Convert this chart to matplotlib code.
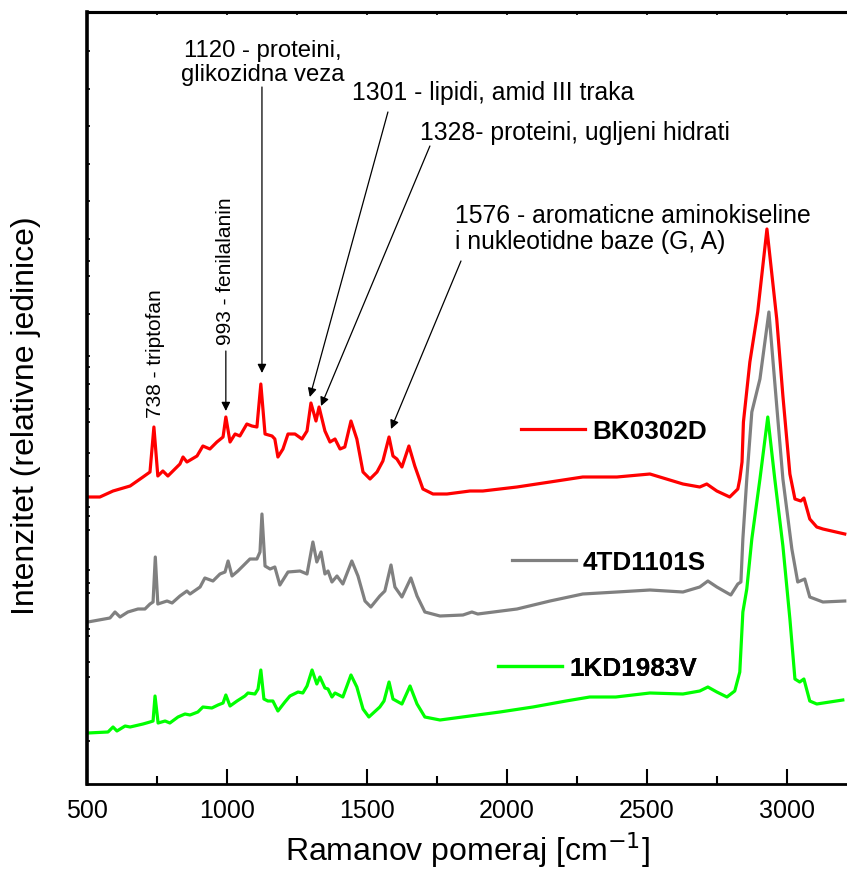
"""Raman spectra of three samples, stacked, with band assignments."""
import matplotlib
matplotlib.use("Agg")
import matplotlib.pyplot as plt
from matplotlib.lines import Line2D

plt.rcParams["font.family"] = ["Liberation Sans", "DejaVu Sans"]

# Ramanov pomeraj [cm-1] and offset intensities
red_x = [500, 546, 593, 654, 700, 725, 739, 753, 771, 789, 832, 843, 857, 893,
         914, 939, 964, 986, 996, 1011, 1029, 1046, 1071, 1089, 1107, 1121,
         1136, 1161, 1171, 1182, 1200, 1218, 1243, 1268, 1286, 1300, 1318,
         1329, 1350, 1368, 1386, 1404, 1421, 1443, 1464, 1486, 1511, 1536,
         1557, 1579, 1593, 1607, 1625, 1650, 1671, 1700, 1736, 1786, 1868,
         1914, 2036, 2154, 2271, 2393, 2511, 2629, 2689, 2714, 2750, 2796,
         2825, 2832, 2840, 2845, 2868, 2896, 2929, 2964, 2986, 3011, 3029,
         3050, 3061, 3082, 3107, 3129, 3207]
red_y = [287, 287, 293, 298, 307, 312, 357, 308, 313, 308, 320, 327, 322, 328,
         338, 335, 342, 347, 367, 342, 350, 348, 360, 358, 357, 400,
         350, 348, 345, 327, 335, 350, 350, 345, 353, 381, 363,
         377, 353, 342, 345, 335, 337, 363, 345, 312, 305, 312,
         323, 347, 328, 325, 317, 338, 318, 295, 290, 290, 293,
         293, 297, 302, 307, 307, 310, 300, 297, 300, 293, 287,
         295, 305, 322, 362, 422, 472, 555, 465, 388, 310, 285,
         283, 286, 265, 257, 255, 250]

gray_x = [503, 582, 600, 618, 646, 682, 707, 725, 736, 744, 753, 786, 804, 832,
          857, 868, 904, 921, 950, 975, 993, 1004, 1018, 1039, 1057, 1082,
          1107, 1118, 1125, 1136, 1154, 1171, 1189, 1218, 1261, 1286, 1307,
          1321, 1336, 1350, 1361, 1375, 1393, 1414, 1446, 1468, 1493, 1514,
          1546, 1564, 1586, 1600, 1625, 1657, 1679, 1707, 1761, 1843, 1875,
          1896, 2036, 2154, 2271, 2393, 2511, 2629, 2689, 2718, 2750, 2800,
          2825, 2836, 2843, 2857, 2875, 2904, 2936, 2964, 2986, 3018, 3039,
          3064, 3082, 3129, 3207]
gray_y = [162, 166, 172, 167, 172, 175, 175, 180, 182, 227, 180, 183, 181, 188,
          193, 190, 197, 206, 203, 210, 212, 223, 208, 213, 218, 225,
          225, 232, 270, 218, 215, 217, 199, 212, 213, 210, 242,
          222, 232, 210, 213, 202, 208, 200, 223, 208, 183, 177,
          188, 193, 219, 197, 187, 206, 188, 172, 168, 169, 172,
          170, 175, 183, 190, 192, 194, 192, 197, 203, 197, 189,
          200, 202, 245, 305, 372, 405, 472, 378, 305, 235, 202,
          205, 187, 182, 183]

green_x = [503, 575, 593, 607, 636, 654, 700, 725, 736, 743, 754, 779, 796, 825,
           850, 868, 896, 914, 946, 968, 986, 996, 1011, 1036, 1064, 1075,
           1100, 1111, 1121, 1132, 1146, 1164, 1182, 1207, 1225, 1254, 1271,
           1286, 1304, 1321, 1332, 1350, 1361, 1375, 1386, 1414, 1443, 1464,
           1486, 1507, 1546, 1561, 1579, 1593, 1625, 1654, 1679, 1707, 1761,
           1868, 1975, 2093, 2211, 2296, 2389, 2511, 2629, 2689, 2718, 2750,
           2786, 2814, 2832, 2843, 2857, 2875, 2904, 2932, 2957, 2986, 3011,
           3029, 3046, 3061, 3082, 3107, 3200]
green_y = [51, 52, 57, 53, 58, 57, 60, 62, 63, 88, 61, 63, 61, 67,
           70, 69, 72, 77, 76, 79, 81, 89, 78, 83, 88, 91,
           90, 95, 114, 85, 83, 83, 73, 82, 88, 92, 91,
           98, 114, 100, 107, 96, 95, 87, 91, 87, 109, 97,
           75, 67, 77, 83, 102, 85, 80, 98, 80, 67, 64,
           68, 72, 77, 83, 87, 87, 91, 90, 93, 97, 92,
           87, 93, 112, 172, 195, 245, 305, 367, 305, 238, 165,
           105, 102, 105, 83, 80, 84]

series = [
    ("BK0302D", red_x, red_y, "#ff0000"),
    ("4TD1101S", gray_x, gray_y, "#808080"),
    ("1KD1983V", green_x, green_y, "#00ff00"),
]
# where each label sits (axes fraction)
label_pos = [(0.571, 0.457), (0.559, 0.288), (0.541, 0.150)]

# band annotations: text, text xy, arrow start, arrow tip
bands = [
    ("1120 - proteini,\nglikozidna veza", (1127, 722), (1125, 697), (1125, 411)),
    ("1301 - lipidi, amid III traka", (1446, 692), (1575, 672), (1296, 387)),
    ("1328- proteini, ugljeni hidrati", (1689, 652), (1725, 638), (1336, 378)),
    ("1576 - aromaticne aminokiseline\ni nukleotidne baze (G, A)",
     (1814, 556), (1836, 523), (1586, 355)),
]
vert_bands = [
    ("738 - triptofan", (743, 367), None, None),
    ("993 - fenilalanin", (996, 440), (996, 433), (996, 373)),
]
left_ticks = [733, 695, 658, 620, 583, 545, 523, 508, 470, 428, 417, 400, 375,
              362, 331, 308, 277, 268, 254, 214, 201, 191, 155, 148, 122, 107, 43]

arrow_kw = dict(arrowstyle="-|>", color="k", lw=0.9, mutation_scale=13,
                shrinkA=0, shrinkB=0)

fig = plt.figure(figsize=(8.47, 8.70), dpi=100)
ax = fig.add_axes([87 / 847, 85 / 870, 760 / 847, 772 / 870])

for name, xs, ys, col in series:
    ax.plot(xs, ys, color=col, lw=2.3, solid_joinstyle="round")

for (name, xs, ys, col), (lx, ly) in zip(series, label_pos):
    leg = ax.legend([Line2D([], [], color=col, lw=2.3)], [name],
                    loc="center left", bbox_to_anchor=(lx, ly), frameon=False,
                    borderpad=0, borderaxespad=0, handlelength=2.45,
                    handletextpad=0.27,
                    prop={"weight": "bold", "size": 18.8})
    ax.add_artist(leg)

for txt, pos, a0, a1 in bands:
    ha = "center" if txt.startswith("1120") else "left"
    size = 17.2 if ha == "center" else 17.8
    ax.text(pos[0], pos[1], txt, ha=ha, va="center", fontsize=size,
            multialignment=ha, linespacing=1.12)
    ax.annotate("", xy=a1, xytext=a0, arrowprops=arrow_kw)

for txt, pos, a0, a1 in vert_bands:
    ax.text(pos[0], pos[1], txt, rotation=90, ha="center", va="bottom",
            fontsize=15)
    if a0 is not None:
        ax.annotate("", xy=a1, xytext=a0, arrowprops=arrow_kw)

ax.set_xlim(500, 3215)
ax.set_ylim(0, 772)
ax.set_xticks([500, 1000, 1500, 2000, 2500, 3000])
ax.set_xticks([750, 1250, 1750, 2250, 2750], minor=True)
ax.set_yticks([])
ax.set_yticks(left_ticks, minor=True)
ax.tick_params(axis="x", which="major", direction="in", length=11, width=1.5,
               pad=10, labelsize=18, top=False)
ax.tick_params(axis="x", which="minor", direction="in", length=6, width=1.5,
               top=False)
ax.tick_params(axis="y", which="minor", direction="in", length=2, width=1.2)

# tiny ticks along the top spine
top = ax.secondary_xaxis("top")
top.set_xticks([500, 750, 1000, 1250, 1500, 1750, 2000, 2250, 2500, 2750, 3000])
top.tick_params(direction="in", length=2, width=1.2, labeltop=False)
top.spines["top"].set_linewidth(2.2)

ax.spines["left"].set_linewidth(2.6)
ax.spines["bottom"].set_linewidth(2.0)
ax.spines["top"].set_linewidth(2.2)
ax.spines["right"].set_visible(False)

ax.set_xlabel("Ramanov pomeraj [cm$^{-1}$]", fontsize=23)
ax.xaxis.set_label_coords(0.5, -0.059)
ax.set_ylabel("Intenzitet (relativne jedinice)", fontsize=23)
ax.yaxis.set_label_coords(-0.06, 0.478)

plt.savefig("out.png", dpi=100)
